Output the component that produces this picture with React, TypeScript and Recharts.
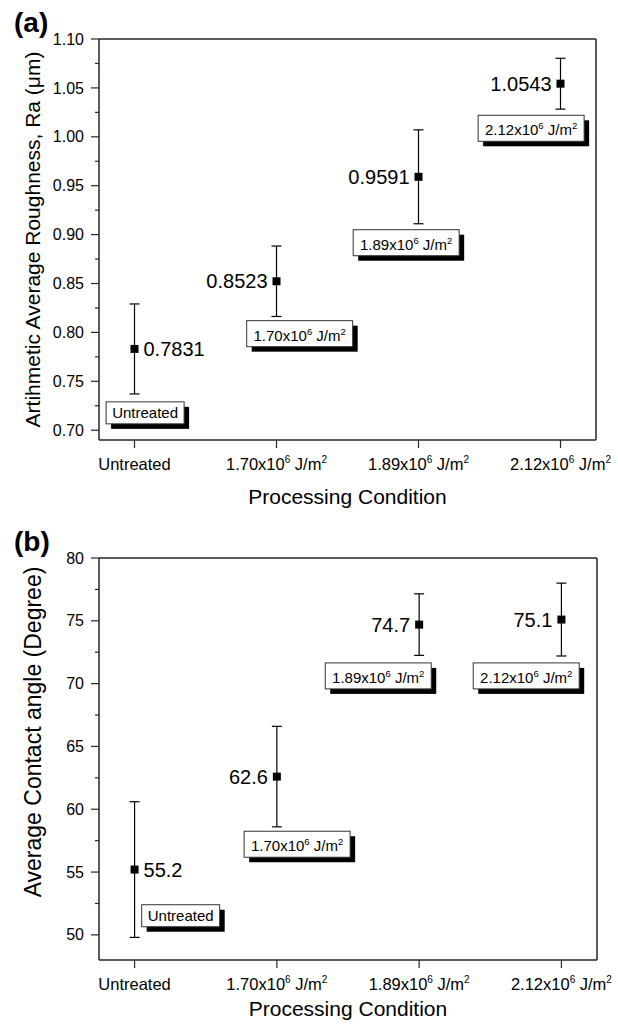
import React from 'react';
import { ScatterChart, Scatter, XAxis, YAxis, ErrorBar, ReferenceLine } from 'recharts';

// shared categories (^n marks a superscript)
const categories = ['Untreated', '1.70x10^6 J/m^2', '1.89x10^6 J/m^2', '2.12x10^6 J/m^2'];
const categoryPos = [0, 1, 2, 3];

// (a) roughness
const roughness = [0.7831, 0.8523, 0.9591, 1.0543];
const roughnessErr = [0.046, 0.036, 0.048, 0.026];
const roughnessTicks = [0.7, 0.75, 0.8, 0.85, 0.9, 0.95, 1.0, 1.05, 1.1];
const roughnessMinor = [0.725, 0.775, 0.825, 0.875, 0.925, 0.975, 1.025, 1.075];
const roughnessBoxX = [-0.2, 0.79, 1.54, 2.42];
const roughnessBoxY = [0.729, 0.812, 0.905, 1.022];

// (b) contact angle
const angle = [55.2, 62.6, 74.7, 75.1];
const angleErr = [5.4, 4.0, 2.45, 2.9];
const angleTicks = [50, 55, 60, 65, 70, 75, 80];
const angleMinor = [52.5, 57.5, 62.5, 67.5, 72.5, 77.5];
const angleBoxX = [0.05, 0.77, 1.34, 2.38];
const angleBoxY = [52.4, 58.25, 71.65, 71.65];

const labelSide = ['right', 'left', 'left', 'left'];

const FONT = 'Arial, "Liberation Sans", Helvetica, sans-serif';
const AXIS = '#262626';
const PLOT_LEFT = 99;

const rich = (s: string, sup: number, rise: number) => {
  const parts = s.split(/\^(\d)/);
  const out: React.ReactNode[] = [];
  let raised = false;
  parts.forEach((p, i) => {
    if (i % 2 === 1) {
      out.push(<tspan key={i} dy={-rise} fontSize={sup}>{p}</tspan>);
      raised = true;
    } else if (p) {
      out.push(<tspan key={i} dy={raised ? rise : 0}>{p}</tspan>);
      raised = false;
    }
  });
  return out;
};

const makeYTick = (majors: number[], digits: number) => (props: any) => {
  const { y, payload } = props;
  const v = payload.value;
  const major = majors.some((m) => Math.abs(m - v) < 1e-9);
  const len = major ? 8 : 4;
  return (
    <g>
      <line x1={PLOT_LEFT - len} x2={PLOT_LEFT} y1={y} y2={y} stroke={AXIS} strokeWidth={1.2} />
      {major && (
        <text x={PLOT_LEFT - 15} y={y} dy="0.35em" textAnchor="end" fontSize={16} fill="#000" fontFamily={FONT}>
          {v.toFixed(digits)}
        </text>
      )}
    </g>
  );
};

const XTick = (props: any) => {
  const { x, payload, axisY } = props;
  return (
    <text x={x} y={axisY + 30} textAnchor="middle" fontSize={16.5} fill="#000" fontFamily={FONT}>
      {rich(categories[payload.value], 10, 7)}
    </text>
  );
};

const XTitle = (props: any) => {
  const { viewBox, dy } = props;
  return (
    <text x={viewBox.x + viewBox.width / 2} y={viewBox.y + dy} textAnchor="middle" fontSize={21} fill="#000" fontFamily={FONT}>
      Processing Condition
    </text>
  );
};

const YTitle = (props: any) => {
  const { viewBox, text, shift, size } = props;
  const cy = viewBox.y + viewBox.height / 2 + shift;
  return (
    <text x={33} y={cy} dy="0.35em" textAnchor="middle" fontSize={size} fill="#000" fontFamily={FONT}
      transform={`rotate(-90, 33, ${cy})`}>
      {text}
    </text>
  );
};

const makePointShape = (digits: number) => (props: any) => {
  const { cx, cy, payload } = props;
  const right = labelSide[payload.x] === 'right';
  return (
    <g>
      <rect x={cx - 4} y={cy - 4} width={8} height={8} fill="#000" />
      <text x={right ? cx + 9 : cx - 9} y={cy} dy="0.35em" textAnchor={right ? 'start' : 'end'}
        fontSize={20} fill="#000" fontFamily={FONT}>
        {payload.y.toFixed(digits)}
      </text>
    </g>
  );
};

const BoxShape = (props: any) => {
  const { cx, cy, payload } = props;
  const hasSup = payload.text.includes('^');
  const w = hasSup ? 106 : 78;
  const h = hasSup ? 26 : 22;
  return (
    <g>
      <rect x={cx + 5} y={cy + 5} width={w} height={h} fill="#000" />
      <rect x={cx} y={cy} width={w} height={h} fill="#fff" stroke="#333" strokeWidth={1} />
      <text x={cx + w / 2} y={cy + h - 6} textAnchor="middle" fontSize={15} fill="#000" fontFamily={FONT}>
        {rich(payload.text, 9.5, 6)}
      </text>
    </g>
  );
};

type PanelProps = {
  tag: string;
  top: number;
  height: number;
  marginTop: number;
  marginRight: number;
  xAxisHeight: number;
  xTitleDy: number;
  yTitle: string;
  yTitleSize: number;
  yShift: number;
  values: number[];
  errs: number[];
  digits: number;
  tickDigits: number;
  ticks: number[];
  minor: number[];
  domain: [number, number];
  boxX: number[];
  boxY: number[];
};

const Panel = (p: PanelProps) => {
  const points = categoryPos.map((x, i) => ({ x, y: p.values[i], err: p.errs[i] }));
  const boxes = categoryPos.map((_, i) => ({ x: p.boxX[i], y: p.boxY[i], text: categories[i] }));
  const allTicks = [...p.ticks, ...p.minor].sort((a, b) => a - b);
  const axisY = p.height - p.xAxisHeight;
  return (
    <div style={{ position: 'absolute', left: 0, top: p.top, width: 618, height: p.height }}>
      <div style={{ position: 'absolute', left: 14, top: p.marginTop - 31, fontFamily: FONT, fontWeight: 'bold', fontSize: 28, lineHeight: '30px' }}>
        {p.tag}
      </div>
      <ScatterChart width={618} height={p.height}
        margin={{ top: p.marginTop, right: p.marginRight, left: 0, bottom: 0 }}>
        <XAxis type="number" dataKey="x" domain={[-0.25, 3.25]} ticks={categoryPos} interval={0}
          allowDataOverflow height={p.xAxisHeight} stroke={AXIS} strokeWidth={1.5}
          tickSize={8} tickLine={{ stroke: AXIS, strokeWidth: 1.2 }}
          tick={<XTick axisY={axisY} />}
          label={<XTitle dy={p.xTitleDy} />} />
        <YAxis type="number" dataKey="y" domain={p.domain} ticks={allTicks} interval={0}
          allowDataOverflow width={PLOT_LEFT} stroke={AXIS} strokeWidth={1.5}
          tickLine={false} tick={makeYTick(p.ticks, p.tickDigits)}
          label={<YTitle text={p.yTitle} shift={p.yShift} size={p.yTitleSize} />} />
        <ReferenceLine y={p.domain[1]} stroke={AXIS} strokeWidth={1.5} />
        <ReferenceLine x={3.25} stroke={AXIS} strokeWidth={1.5} />
        <Scatter data={points} isAnimationActive={false} shape={makePointShape(p.digits)}>
          <ErrorBar dataKey="err" direction="y" width={5} stroke="#000" strokeWidth={1.2} />
        </Scatter>
        <Scatter data={boxes} isAnimationActive={false} shape={BoxShape} />
      </ScatterChart>
    </div>
  );
};

export default function App() {
  return (
    <div style={{ position: 'absolute', left: 0, top: 0, width: 618, height: 1029, background: '#fff' }}>
      <Panel tag="(a)" top={0} height={520} marginTop={39} marginRight={22} xAxisHeight={80} xTitleDy={64}
        yTitle="Artihmetic Average Roughness, Ra (μm)" yTitleSize={21} yShift={0}
        values={roughness} errs={roughnessErr} digits={4} tickDigits={2}
        ticks={roughnessTicks} minor={roughnessMinor} domain={[0.69, 1.1]}
        boxX={roughnessBoxX} boxY={roughnessBoxY} />
      <Panel tag="(b)" top={520} height={509} marginTop={38} marginRight={21} xAxisHeight={69} xTitleDy={56}
        yTitle="Average Contact angle (Degree)" yTitleSize={23} yShift={-27}
        values={angle} errs={angleErr} digits={1} tickDigits={0}
        ticks={angleTicks} minor={angleMinor} domain={[48, 80]}
        boxX={angleBoxX} boxY={angleBoxY} />
    </div>
  );
}
